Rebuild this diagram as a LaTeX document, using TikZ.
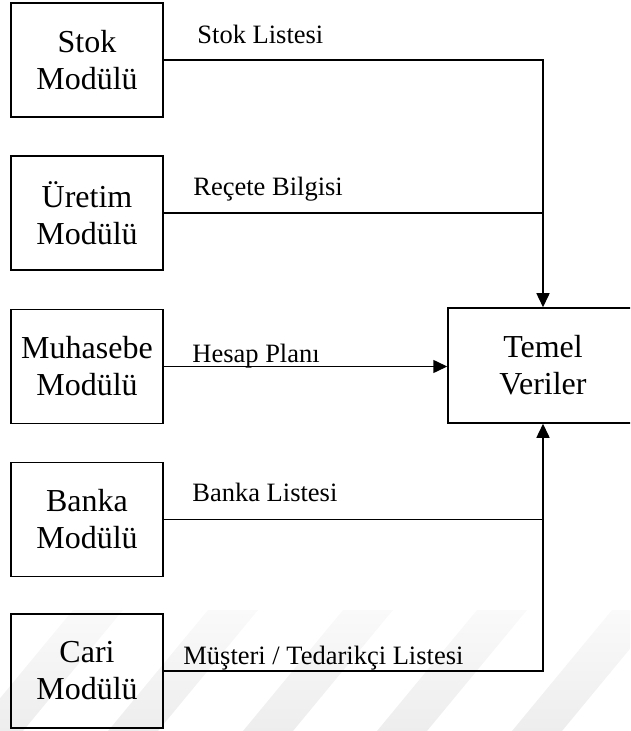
\documentclass[tikz,border=0pt]{standalone}
\usepackage{fontspec}
\setmainfont{Liberation Serif}
\usetikzlibrary{arrows.meta}
\begin{document}
\begin{tikzpicture}[x=0.5pt,y=-0.5pt,
  module/.style={draw=black,line width=0.75pt,minimum width=76pt,minimum height=57pt,
    inner sep=0pt,align=center,font=\fontsize{16}{18.5}\selectfont},
  flowlabel/.style={anchor=base west,inner sep=0pt,font=\fontsize{13.25}{15}\selectfont},
  flow/.style={line width=0.75pt,draw=black},
  tip/.style={-{Triangle[length=7pt,width=6.5pt]}},
  stripe/.style={draw=none,top color=black!2,bottom color=black!7}]
\useasboundingbox (0,0) rectangle (630,731);
\clip (0,0) rectangle (630,731);

% faint diagonal stripes along the bottom edge
\foreach \s in {73,208,343,477,612}
  \shade[stripe] (\s,610) -- (\s+50,610) -- (\s+50-100,731) -- (\s-100,731) -- cycle;

% source modules
\node[module] (stok) at (87,60)    {Stok\\Modülü};
\node[module] (uretim) at (87,213) {Üretim\\Modülü};
\node[module] (muh) at (87,366.5)  {Muhasebe\\Modülü};
\node[module] (banka) at (87,519.5){Banka\\Modülü};
\node[module] (cari) at (87,671)   {Cari\\Modülü};

% target
\node[module,minimum width=95pt,minimum height=57.5pt] (temel) at (543,365.5) {Temel\\Veriler};

% connectors
\draw[flow,tip] (stok.east) -| (temel.north);
\draw[flow] (uretim.east) -- (uretim.east -| temel.north);
\draw[flow,tip] (muh.east) -- (muh.east -| temel.west);
\draw[flow] (banka.east) -- (banka.east -| temel.south);
\draw[flow,tip] (cari.east) -| (temel.south);

% connector labels
\node[flowlabel] (l1) at (197,44)  {Stok Listesi};
\node[flowlabel] (l2) at (193,196) {Reçete Bilgisi};
\node[flowlabel] (l3) at (192,362) {Hesap Planı};
\node[flowlabel] (l4) at (192,501) {Banka Listesi};
\node[flowlabel] (l5) at (183,664) {Müşteri / Tedarikçi Listesi};
\end{tikzpicture}
\end{document}
